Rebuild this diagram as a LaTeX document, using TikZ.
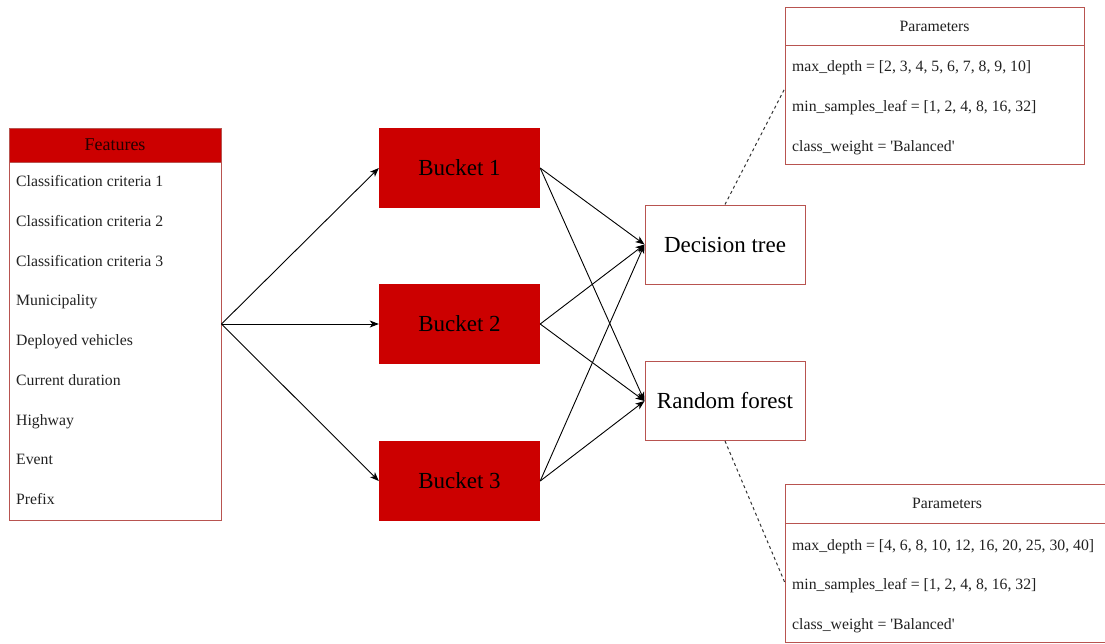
\documentclass[tikz,border=0pt]{standalone}
\usepackage{fontspec}
\setmainfont{Liberation Serif}
\usetikzlibrary{arrows.meta}
\definecolor{boxred}{HTML}{CC0000}
\definecolor{edgered}{HTML}{B85450}
\definecolor{txt}{HTML}{222222}
\tikzset{
  small/.style={font=\fontsize{15.75}{18}\selectfont, text=txt},
  large/.style={font=\fontsize{23}{26}\selectfont, text=black},
  frame/.style={rectangle, draw=edgered, line width=1pt, fill=white, inner sep=0pt},
  redhead/.style={rectangle, draw=edgered, line width=1pt, fill=boxred, inner sep=0pt,
    font=\fontsize{18}{20}\selectfont, text=black!85!red},
  bucket/.style={rectangle, fill=boxred, draw=none, inner sep=0pt,
    minimum width=161pt, minimum height=80pt, large},
  model/.style={frame, minimum width=160pt, minimum height=79pt, large},
  item/.style={small, anchor=west, inner sep=0pt, text height=14.5pt, text depth=3.5pt},
  flow/.style={-{Stealth[length=9pt,width=7pt,inset=2.5pt]}, line width=0.9pt, black},
  link/.style={dash pattern=on 3pt off 3pt, line width=1pt, black!80}
}
\newcommand{\sq}{\textquotesingle}
\begin{document}
\begin{tikzpicture}[x=1pt,y=-1pt]
\useasboundingbox (0,0) rectangle (1105,643);
\clip (0,0) rectangle (1105,643);

% feature list
\node[frame, minimum width=212pt, minimum height=392pt] (feat) at (115,324) {};
\node[redhead, minimum width=212pt, minimum height=34pt] (feathead) at (115,145) {Features};
\foreach \t [count=\i from 0] in {Classification criteria 1, Classification criteria 2,
    Classification criteria 3, Municipality, Deployed vehicles, Current duration,
    Highway, Event, Prefix}
  \node[item] (f\i) at (16,{181+39.75*\i}) {\t};

% data buckets
\node[bucket] (b1) at (459.5,168) {Bucket 1};
\node[bucket] (b2) at (459.5,324) {Bucket 2};
\node[bucket] (b3) at (459.5,481) {Bucket 3};

% models
\node[model] (dt) at (725,244.5) {Decision tree};
\node[model] (rf) at (725,401) {Random forest};

% parameter grid of the decision tree
\node[frame, minimum width=299pt, minimum height=157pt] (p1) at (934.5,85.5) {};
\node[frame, small, minimum width=299pt, minimum height=38pt] (p1h) at (934.5,26) {Parameters};
\node[item] (p1a) at (792,66) {max\_depth = [2, 3, 4, 5, 6, 7, 8, 9, 10]};
\node[item] (p1b) at (792,106) {min\_samples\_leaf = [1, 2, 4, 8, 16, 32]};
\node[item] (p1c) at (792,146) {class\_weight = \sq Balanced\sq};

% parameter grid of the random forest
\node[frame, minimum width=324pt, minimum height=158pt] (p2) at (947,563) {};
\node[frame, small, minimum width=324pt, minimum height=39pt] (p2h) at (947,503.5) {Parameters};
\node[item] (p2a) at (792,545) {max\_depth = [4, 6, 8, 10, 12, 16, 20, 25, 30, 40]};
\node[item] (p2b) at (792,584) {min\_samples\_leaf = [1, 2, 4, 8, 16, 32]};
\node[item] (p2c) at (792,624) {class\_weight = \sq Balanced\sq};

% features to buckets
\foreach \b in {b1,b2,b3}
  \draw[flow] (feat.east) -- (\b.west);

% buckets to models
\foreach \b in {b1,b2,b3} {
  \draw[flow] (\b.east) -- (dt.west);
  \draw[flow] (\b.east) -- (rf.west);
}

% model to parameter links
\coordinate (p1in) at (785,88);
\coordinate (p2in) at (785,583);
\draw[link] (dt.north) -- (p1in);
\draw[link] (rf.south) -- (p2in);
\end{tikzpicture}
\end{document}
